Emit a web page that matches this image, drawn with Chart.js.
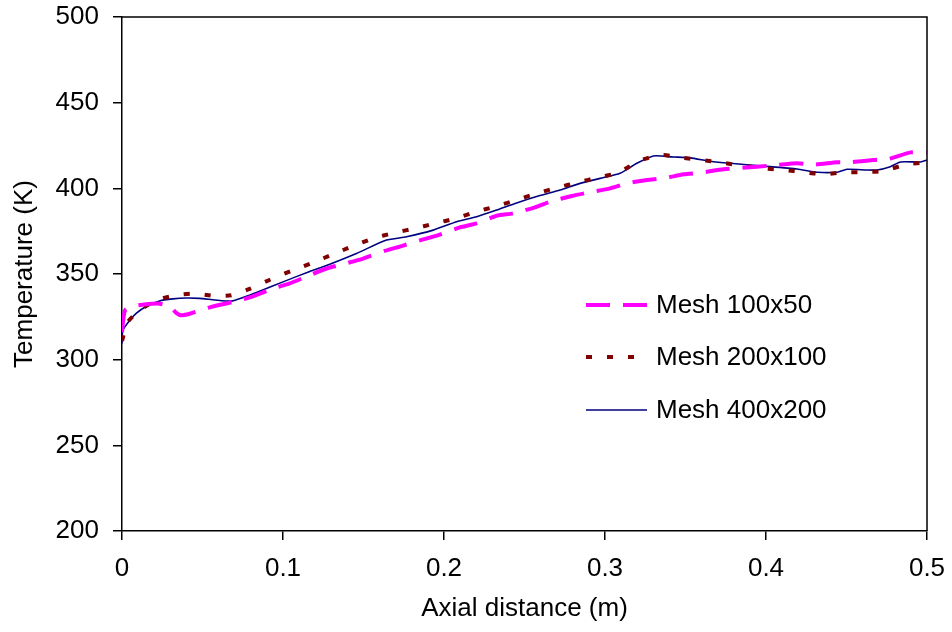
<!DOCTYPE html>
<html>
<head>
<meta charset="utf-8">
<script src="https://cdn.jsdelivr.net/npm/chart.js@4/dist/chart.umd.min.js"></script>
<style>
  html, body { margin: 0; padding: 0; background: #fff; }
  #wrap { width: 952px; height: 632px; position: relative; }
</style>
</head>
<body>
<div id="wrap"><canvas id="chart"></canvas></div>
<script>
const seriesLabels = ["Mesh 100x50", "Mesh 200x100", "Mesh 400x200"];
const xTitle = "Axial distance (m)";
const yTitle = "Temperature (K)";

const distance100 = [0, 0.002, 0.0098, 0.0233, 0.03, 0.0337, 0.0368, 0.042, 0.0472, 0.0555, 0.0689, 0.0793, 0.0938, 0.1042, 0.1166, 0.127, 0.1404, 0.1498, 0.1632, 0.1736, 0.1871, 0.1964, 0.2099, 0.2203, 0.2327, 0.243, 0.2565, 0.2659, 0.2793, 0.2887, 0.3032, 0.3136, 0.326, 0.3363, 0.3488, 0.3591, 0.3736, 0.382, 0.4068, 0.4193, 0.4296, 0.4442, 0.4524, 0.4669, 0.4763, 0.4899, 0.5];
const temp100 = [316, 329, 331.7, 332.7, 331, 327.3, 325.9, 326.8, 328.4, 330.8, 333.7, 336.3, 341.5, 344.5, 349.3, 353.2, 356.5, 359, 363.5, 366.3, 370.2, 372.7, 377.2, 379.5, 384, 385.4, 388.9, 392.2, 395.5, 397.4, 400, 402.9, 404.9, 405.8, 408.2, 409.1, 411.1, 411.7, 413.6, 414.6, 413.8, 415.2, 415.2, 416.5, 417.2, 421, 421];

const distance200 = [0, 0.0036, 0.0109, 0.0223, 0.0337, 0.0451, 0.0575, 0.0679, 0.0797, 0.0922, 0.1052, 0.1177, 0.1307, 0.1435, 0.156, 0.169, 0.1819, 0.1943, 0.2074, 0.2198, 0.2327, 0.2451, 0.2576, 0.271, 0.2835, 0.2959, 0.3083, 0.3214, 0.3343, 0.3471, 0.3596, 0.3726, 0.3851, 0.3985, 0.4109, 0.4234, 0.4362, 0.4487, 0.4617, 0.4736, 0.4873, 0.5];
const temp200 = [311, 322, 328.8, 335, 337.6, 338.6, 337.2, 337.6, 341.5, 346.8, 351.8, 356.3, 361.4, 366.3, 370.8, 374, 376.6, 379.5, 382.5, 386.3, 389.6, 393.2, 397, 400.6, 403.5, 406.4, 409.1, 416.1, 419.5, 417.9, 416.5, 415, 413.2, 411.7, 410.7, 409.4, 408.2, 409.4, 409.4, 410.3, 414, 415.2];

const distance400 = [0, 0.0005, 0.004, 0.0088, 0.015, 0.0233, 0.0316, 0.04, 0.048, 0.058, 0.068, 0.0751, 0.0855, 0.1, 0.1166, 0.1249, 0.1456, 0.1643, 0.1767, 0.1933, 0.2078, 0.2203, 0.2327, 0.2451, 0.2596, 0.2721, 0.2845, 0.297, 0.3094, 0.3198, 0.3301, 0.3425, 0.3529, 0.3654, 0.3778, 0.3985, 0.4193, 0.4317, 0.4442, 0.4503, 0.4628, 0.469, 0.4772, 0.4835, 0.496, 0.5];
const temp400 = [309.5, 317, 322, 327, 331, 334.3, 335.5, 336, 335.8, 334.8, 334.2, 336.3, 340, 345.4, 351.5, 354.2, 362, 369.8, 371.7, 375.6, 380.5, 383.4, 387.3, 391.5, 395.8, 399, 402.9, 405.8, 408.8, 414.6, 418.9, 418.3, 417.8, 415.8, 414.6, 413, 411.3, 409.4, 409.4, 411.1, 410.7, 410.7, 412.6, 415.4, 415.4, 416.5];

const toPoints = (xs, ys) => xs.map((x, i) => ({ x, y: ys[i] }));
const fontFamily = "'Liberation Sans', Arial, sans-serif";

// frame round the plot area (top and right sides)
const frame = {
  id: "frame",
  afterDatasetsDraw(chart) {
    const { ctx, chartArea: a } = chart;
    ctx.save();
    ctx.strokeStyle = "#000";
    ctx.lineWidth = 1.5;
    ctx.beginPath();
    ctx.moveTo(a.left, a.top);
    ctx.lineTo(a.right, a.top);
    ctx.lineTo(a.right, a.bottom);
    ctx.stroke();
    ctx.restore();
  }
};

// legend inside the plot, drawn from the datasets
const insideLegend = {
  id: "insideLegend",
  afterDatasetsDraw(chart) {
    const { ctx } = chart;
    const rows = [305, 357, 410];
    ctx.save();
    chart.data.datasets.forEach((ds, i) => {
      const y = rows[i];
      ctx.strokeStyle = ds.borderColor;
      ctx.lineWidth = ds.borderWidth;
      ctx.setLineDash(ds.borderDash || []);
      ctx.lineCap = "butt";
      ctx.beginPath();
      ctx.moveTo(586, y);
      ctx.lineTo(647, y);
      ctx.stroke();
      ctx.setLineDash([]);
      ctx.fillStyle = "#000";
      ctx.font = "26px " + fontFamily;
      ctx.textBaseline = "middle";
      ctx.fillText(ds.label, 656, y + 1);
    });
    ctx.restore();
  }
};

new Chart(document.getElementById("chart"), {
  type: "line",
  data: {
    datasets: [
      { label: seriesLabels[0], data: toPoints(distance100, temp100), borderColor: "#ff00ff", borderWidth: 4, borderDash: [24, 13], pointRadius: 0, tension: 0.2 },
      { label: seriesLabels[1], data: toPoints(distance200, temp200), borderColor: "#800000", borderWidth: 4, borderDash: [6, 15], pointRadius: 0, tension: 0.2 },
      { label: seriesLabels[2], data: toPoints(distance400, temp400), borderColor: "#000080", borderWidth: 1.6, pointRadius: 0, tension: 0.2 }
    ]
  },
  options: {
    responsive: true,
    maintainAspectRatio: false,
    animation: false,
    layout: { padding: { top: 17, right: 25, left: 0, bottom: 0 } },
    plugins: { legend: { display: false }, tooltip: { enabled: false } },
    scales: {
      x: {
        type: "linear",
        min: 0,
        max: 0.5,
        afterFit(scale) { scale.height = 101; scale.paddingLeft = 0; scale.paddingRight = 0; },
        ticks: { stepSize: 0.1, color: "#000", padding: 13, font: { family: fontFamily, size: 26 }, callback: (v) => String(Math.round(v * 10) / 10) },
        grid: { drawOnChartArea: false, drawTicks: true, tickLength: 9, color: "#000", lineWidth: 1.5 },
        border: { display: true, color: "#000", width: 1.5 },
        title: { display: true, text: xTitle, color: "#000", font: { family: fontFamily, size: 26 }, padding: { top: 0, bottom: 8 } }
      },
      y: {
        min: 200,
        max: 500,
        afterFit(scale) { scale.width = 122; scale.paddingTop = 0; scale.paddingBottom = 0; },
        ticks: { stepSize: 50, color: "#000", padding: 14, font: { family: fontFamily, size: 26 } },
        grid: { drawOnChartArea: false, drawTicks: true, tickLength: 9, color: "#000", lineWidth: 1.5 },
        border: { display: true, color: "#000", width: 1.5 },
        title: { display: true, text: yTitle, color: "#000", font: { family: fontFamily, size: 26 }, padding: { top: 9, bottom: 0 } }
      }
    }
  },
  plugins: [frame, insideLegend]
});
</script>
</body>
</html>
